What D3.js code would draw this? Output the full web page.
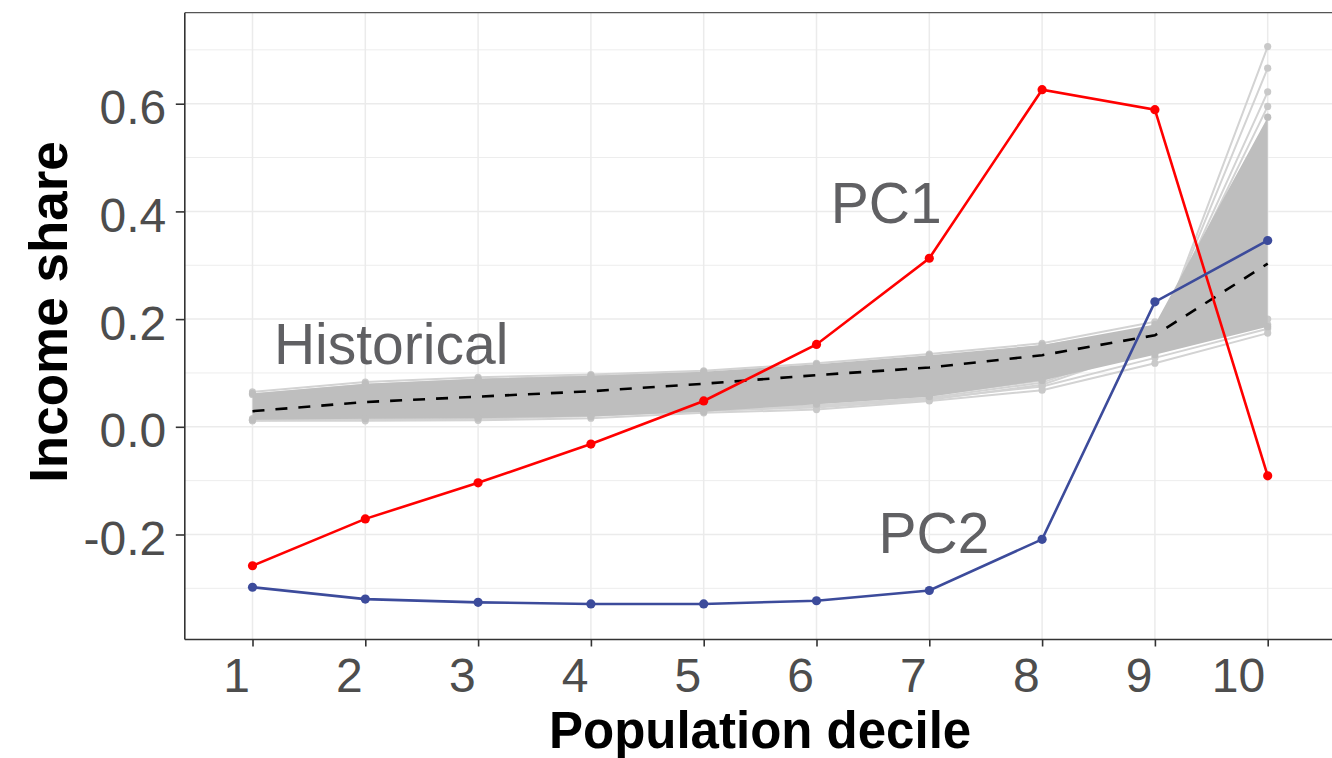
<!DOCTYPE html>
<html>
<head>
<meta charset="utf-8">
<script src="https://cdn.jsdelivr.net/npm/d3@7"></script>
<style>
  html, body { margin: 0; padding: 0; background: #fff; }
  svg { display: block; }
  text { font-family: "Liberation Sans", Arial, sans-serif; }
</style>
</head>
<body>
<svg id="chart" width="1332" height="758"></svg>
<script>
// ---- data ----
const deciles = [1, 2, 3, 4, 5, 6, 7, 8, 9, 10];
const yTicks = [-0.2, 0.0, 0.2, 0.4, 0.6];
const yMinorTicks = [-0.3, -0.1, 0.1, 0.3, 0.5, 0.7];

const pc1 = [-0.258, -0.171, -0.104, -0.032, 0.048, 0.153, 0.313, 0.626, 0.589, -0.091];
const pc2 = [-0.298, -0.320, -0.326, -0.329, -0.329, -0.323, -0.304, -0.209, 0.232, 0.346];
const histMean = [0.029, 0.046, 0.056, 0.066, 0.080, 0.096, 0.110, 0.133, 0.170, 0.303];

// dense core of the historical curves (lower / upper edge per decile)
const histLow  = [0.013, 0.015, 0.016, 0.019, 0.028, 0.042, 0.056, 0.086, 0.134, 0.186];
const histHigh = [0.062, 0.080, 0.089, 0.095, 0.102, 0.116, 0.133, 0.152, 0.190, 0.575];

// individual historical curves visible outside the dense core
const hist1 = [0.011, 0.011, 0.012, 0.016, 0.026, 0.032, 0.048, 0.068, 0.118, 0.174];
const hist2 = [0.012, 0.014, 0.018, 0.024, 0.030, 0.036, 0.050, 0.078, 0.150, 0.706];
const hist3 = [0.013, 0.016, 0.020, 0.026, 0.033, 0.040, 0.054, 0.082, 0.155, 0.666];
const hist4 = [0.014, 0.018, 0.022, 0.028, 0.036, 0.044, 0.058, 0.086, 0.160, 0.622];
const hist5 = [0.015, 0.019, 0.024, 0.030, 0.038, 0.047, 0.060, 0.090, 0.165, 0.595];
const hist6 = [0.065, 0.083, 0.092, 0.097, 0.104, 0.118, 0.135, 0.155, 0.195, 0.190];
const hist7 = [0.060, 0.078, 0.088, 0.094, 0.100, 0.110, 0.128, 0.150, 0.185, 0.200];
const hist8 = [0.012, 0.013, 0.015, 0.020, 0.030, 0.038, 0.052, 0.075, 0.128, 0.182];
const histLines = [hist1, hist2, hist3, hist4, hist5, hist6, hist7, hist8];

const labels = [
  { text: "Historical", x: 1.19, y: 0.116 },
  { text: "PC1", x: 6.127, y: 0.379 },
  { text: "PC2", x: 6.55, y: -0.235 }
];

// ---- layout ----
const svg = d3.select("#chart");
const panel = { left: 184.8, right: 1335.4, top: 12.7, bottom: 639.5 };

const x = d3.scaleLinear().domain([1, 10]).range([252.5, 1267.7]);
const y = d3.scaleLinear().domain([-0.395, 0.769]).range([panel.bottom, panel.top]);

svg.append("rect").attr("width", 1332).attr("height", 758).attr("fill", "#fff");

// grid
const grid = svg.append("g");
grid.selectAll(".ymin").data(yMinorTicks).join("line")
  .attr("x1", panel.left).attr("x2", panel.right)
  .attr("y1", d => y(d)).attr("y2", d => y(d))
  .attr("stroke", "#ededed").attr("stroke-width", 1);
grid.selectAll(".ymaj").data(yTicks).join("line")
  .attr("x1", panel.left).attr("x2", panel.right)
  .attr("y1", d => y(d)).attr("y2", d => y(d))
  .attr("stroke", "#ebebeb").attr("stroke-width", 1.5);
grid.selectAll(".xmaj").data(deciles).join("line")
  .attr("x1", d => x(d)).attr("x2", d => x(d))
  .attr("y1", panel.top).attr("y2", panel.bottom)
  .attr("stroke", "#ebebeb").attr("stroke-width", 1.5);

const line = d3.line().x((d, i) => x(deciles[i])).y(d => y(d));

// historical outlier curves
const hg = svg.append("g");
hg.selectAll("path.h").data(histLines).join("path")
  .attr("d", d => line(d))
  .attr("fill", "none").attr("stroke", "#d3d3d3").attr("stroke-width", 2);
histLines.forEach(arr => {
  hg.selectAll(null).data(arr).join("circle")
    .attr("cx", (d, i) => x(deciles[i])).attr("cy", d => y(d))
    .attr("r", 3.6).attr("fill", "#c9c9c9");
});

// dense core band
const area = d3.area()
  .x((d, i) => x(deciles[i]))
  .y0((d, i) => y(histLow[i]))
  .y1((d, i) => y(histHigh[i]));
hg.append("path").datum(deciles).attr("d", area).attr("fill", "#bebebe");
[histLow, histHigh].forEach(arr => {
  hg.selectAll(null).data(arr).join("circle")
    .attr("cx", (d, i) => x(deciles[i])).attr("cy", d => y(d))
    .attr("r", 3.6).attr("fill", "#bebebe");
});

// historical mean (dashed)
svg.append("path").attr("d", line(histMean))
  .attr("fill", "none").attr("stroke", "#000").attr("stroke-width", 2.6)
  .attr("stroke-dasharray", "12,11");

// PC lines
function drawSeries(vals, color) {
  const g = svg.append("g");
  g.append("path").attr("d", line(vals))
    .attr("fill", "none").attr("stroke", color).attr("stroke-width", 2.6);
  g.selectAll("circle").data(vals).join("circle")
    .attr("cx", (d, i) => x(deciles[i])).attr("cy", d => y(d))
    .attr("r", 4.6).attr("fill", color);
}
drawSeries(pc1, "#ff0000");
drawSeries(pc2, "#3c4b9b");

// annotations
svg.selectAll("text.lab").data(labels).join("text")
  .attr("x", d => x(d.x)).attr("y", d => y(d.y))
  .attr("font-size", 57).attr("fill", "#606063")
  .text(d => d.text);

// axes / border
svg.append("line").attr("x1", panel.left).attr("x2", panel.right)
  .attr("y1", panel.top).attr("y2", panel.top)
  .attr("stroke", "#555").attr("stroke-width", 1.3);

const yAxis = svg.append("g").attr("transform", `translate(${panel.left},0)`)
  .call(d3.axisLeft(y).tickValues(yTicks).tickSize(9).tickPadding(9)
    .tickFormat(d3.format(".1f")));
yAxis.select(".domain").attr("d", `M0,${panel.top}V${panel.bottom}`)
  .attr("stroke", "#333").attr("stroke-width", 1.6);
yAxis.selectAll(".tick line").attr("stroke", "#333").attr("stroke-width", 1.6);
yAxis.selectAll(".tick text")
  .attr("font-size", 48).attr("fill", "#4d4d4d")
  .attr("font-family", "'Liberation Sans', Arial, sans-serif")
  .attr("dy", null).attr("y", 20).attr("x", -18.5)
  .text(d => d === 0 ? "0.0" : d3.format(".1f")(d).replace("−", "-"));

const xAxis = svg.append("g").attr("transform", `translate(0,${panel.bottom})`)
  .call(d3.axisBottom(x).tickValues(deciles).tickSize(7).tickFormat(d3.format("d")));
xAxis.select(".domain").attr("d", `M${panel.left},0H${panel.right}`)
  .attr("stroke", "#333").attr("stroke-width", 1.6);
xAxis.selectAll(".tick line").attr("stroke", "#333").attr("stroke-width", 1.6);
xAxis.selectAll(".tick text")
  .attr("font-size", 48).attr("fill", "#4d4d4d")
  .attr("font-family", "'Liberation Sans', Arial, sans-serif")
  .attr("text-anchor", "end").attr("x", -3).attr("dy", null).attr("y", 52);

// axis titles
svg.append("text")
  .attr("transform", "translate(67,312) rotate(-90)")
  .attr("text-anchor", "middle").attr("font-size", 53).attr("font-weight", "bold")
  .attr("fill", "#000").text("Income share");
svg.append("text")
  .attr("x", (panel.left + panel.right) / 2).attr("y", 748)
  .attr("text-anchor", "middle").attr("font-size", 51).attr("font-weight", "bold")
  .attr("fill", "#000").text("Population decile");
</script>
</body>
</html>
